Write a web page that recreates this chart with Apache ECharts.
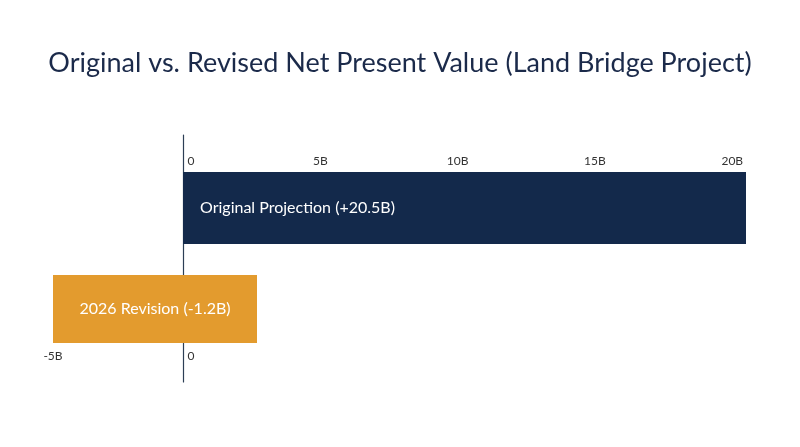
<!DOCTYPE html>
<html>
<head>
<meta charset="utf-8">
<script src="https://cdn.jsdelivr.net/npm/echarts@6/dist/echarts.min.js"></script>
<style>
  html, body { margin: 0; padding: 0; background: #fff; }
  #chart { width: 800px; height: 447px; }
</style>
</head>
<body>
<div id="chart"></div>
<script>
const titleText = 'Original vs. Revised Net Present Value (Land Bridge Project)'
const categories = ['Original Projection', '2026 Revision']
// NPV in billions, as printed in the bar labels
const npvValues = [20.5, -1.2]
// extent of the revision bar on its own (bottom) axis, as drawn in the picture
const revisionBar = [-5, 2.85]
const topTicks = [0, 5, 10, 15, 20]
const bottomTicks = [-5, 0]

const navy = '#13294b'
const orange = '#e39b2e'
const font = 'Lato'

const fmtValue = v => (v > 0 ? '+' : '') + v + 'B'
const barLabel = i => categories[i] + ' (' + fmtValue(npvValues[i]) + ')'

function tickFormatter(ticks) {
  return function (v) {
    if (ticks.indexOf(v) < 0) return ''
    return v === 0 ? '{z|0}' : v + 'B'
  }
}

const tickLabel = ticks => ({
  fontFamily: font,
  fontSize: 12,
  color: '#333',
  formatter: tickFormatter(ticks),
  rich: { z: { fontFamily: font, fontSize: 12, color: '#333', padding: [0, 0, 0, 16] } }
})

const chart = echarts.init(document.getElementById('chart'))

const option = {
  animation: false,
  title: {
    text: titleText,
    left: 'center',
    top: 45,
    textStyle: { fontFamily: font, fontSize: 27, fontWeight: 'normal', color: '#1b2a4a' }
  },
  grid: [
    // top bar
    { left: 183, right: 54, top: 172, height: 72 },
    // bottom bar
    { left: 53, right: 543, top: 275, height: 68 },
    // zero line
    { left: 183, width: 10, top: 135, bottom: 65 }
  ],
  xAxis: [
    {
      gridIndex: 0,
      type: 'value',
      position: 'top',
      min: topTicks[0],
      max: npvValues[0],
      interval: topTicks[1] - topTicks[0],
      axisLine: { show: false },
      axisTick: { show: false },
      splitLine: { show: false },
      axisLabel: Object.assign({ margin: 5 }, tickLabel(topTicks))
    },
    {
      gridIndex: 1,
      type: 'value',
      position: 'bottom',
      min: revisionBar[0],
      max: revisionBar[1],
      interval: bottomTicks[1] - bottomTicks[0],
      axisLine: { show: false },
      axisTick: { show: false },
      splitLine: { show: false },
      axisLabel: Object.assign({ margin: 7 }, tickLabel(bottomTicks))
    },
    { gridIndex: 2, type: 'value', show: false }
  ],
  yAxis: [
    { gridIndex: 0, type: 'category', data: [categories[0]], show: false },
    { gridIndex: 1, type: 'category', data: [categories[1]], show: false },
    {
      gridIndex: 2,
      type: 'value',
      axisLine: { show: true, onZero: false, lineStyle: { color: '#2c3e55', width: 1.2 } },
      axisTick: { show: false },
      axisLabel: { show: false },
      splitLine: { show: false }
    }
  ],
  series: [
    {
      type: 'bar',
      xAxisIndex: 0,
      yAxisIndex: 0,
      barWidth: '100%',
      itemStyle: { color: navy },
      label: {
        show: true,
        position: 'insideLeft',
        distance: 17,
        color: '#fff',
        fontFamily: font,
        fontSize: 16,
        formatter: () => barLabel(0)
      },
      data: [npvValues[0]]
    },
    {
      type: 'custom',
      xAxisIndex: 1,
      yAxisIndex: 1,
      encode: { x: [1, 2], y: 0 },
      renderItem: function (params, api) {
        const a = api.coord([api.value(1), api.value(0)])
        const b = api.coord([api.value(2), api.value(0)])
        const h = api.size([0, 1])[1]
        return {
          type: 'rect',
          shape: { x: a[0], y: a[1] - h / 2, width: b[0] - a[0], height: h },
          style: { fill: orange },
          textContent: {
            style: { text: barLabel(1), fill: '#fff', fontFamily: font, fontSize: 16 }
          },
          textConfig: { position: 'inside' }
        }
      },
      data: [[0, revisionBar[0], revisionBar[1]]]
    }
  ]
}

chart.setOption(option, true)
</script>
</body>
</html>
